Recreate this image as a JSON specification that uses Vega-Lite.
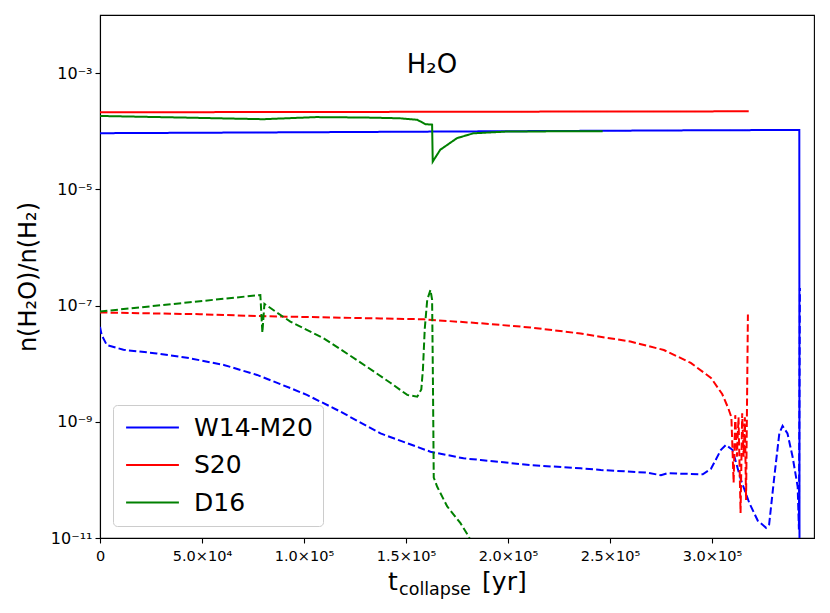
{
  "$schema": "https://vega.github.io/schema/vega-lite/v6.json",
  "width": 714,
  "height": 523,
  "autosize": {"type": "none"},
  "padding": {"left": 100, "top": 15, "right": 16, "bottom": 75},
  "background": "white",
  "config": {
    "font": "DejaVu Sans",
    "view": {"stroke": "black", "strokeWidth": 1.1},
    "axis": {
      "grid": false,
      "domainColor": "black",
      "domainWidth": 1.1,
      "tickColor": "black",
      "tickWidth": 1.1,
      "tickSize": 5,
      "labelColor": "black",
      "labelFontSize": 14.5,
      "labelFont": "DejaVu Sans",
      "titleColor": "black",
      "titleFont": "DejaVu Sans",
      "titleFontWeight": "normal"
    }
  },
  "datasets": {
    "curves": [
      {"model": "W14-M20", "phase": "solid", "t": 0, "ratio": 9.25e-5},
      {"model": "W14-M20", "phase": "solid", "t": 100000, "ratio": 9.6e-5},
      {"model": "W14-M20", "phase": "solid", "t": 200000, "ratio": 1.0e-4},
      {"model": "W14-M20", "phase": "solid", "t": 300000, "ratio": 1.04e-4},
      {"model": "W14-M20", "phase": "solid", "t": 342800, "ratio": 1.05e-4},
      {"model": "W14-M20", "phase": "solid", "t": 342900, "ratio": 1e-12},

      {"model": "W14-M20", "phase": "dashed", "t": 0, "ratio": 4.3e-8},
      {"model": "W14-M20", "phase": "dashed", "t": 830, "ratio": 3.1e-8},
      {"model": "W14-M20", "phase": "dashed", "t": 3300, "ratio": 2.1e-8},
      {"model": "W14-M20", "phase": "dashed", "t": 11500, "ratio": 1.73e-8},
      {"model": "W14-M20", "phase": "dashed", "t": 27800, "ratio": 1.5e-8},
      {"model": "W14-M20", "phase": "dashed", "t": 44000, "ratio": 1.24e-8},
      {"model": "W14-M20", "phase": "dashed", "t": 60700, "ratio": 9.5e-9},
      {"model": "W14-M20", "phase": "dashed", "t": 77000, "ratio": 6.4e-9},
      {"model": "W14-M20", "phase": "dashed", "t": 93300, "ratio": 3.8e-9},
      {"model": "W14-M20", "phase": "dashed", "t": 101400, "ratio": 2.9e-9},
      {"model": "W14-M20", "phase": "dashed", "t": 117800, "ratio": 1.5e-9},
      {"model": "W14-M20", "phase": "dashed", "t": 127000, "ratio": 1.0e-9},
      {"model": "W14-M20", "phase": "dashed", "t": 137500, "ratio": 6.3e-10},
      {"model": "W14-M20", "phase": "dashed", "t": 162000, "ratio": 3.05e-10},
      {"model": "W14-M20", "phase": "dashed", "t": 178200, "ratio": 2.35e-10},
      {"model": "W14-M20", "phase": "dashed", "t": 186600, "ratio": 2.2e-10},
      {"model": "W14-M20", "phase": "dashed", "t": 211000, "ratio": 1.8e-10},
      {"model": "W14-M20", "phase": "dashed", "t": 235600, "ratio": 1.58e-10},
      {"model": "W14-M20", "phase": "dashed", "t": 245500, "ratio": 1.48e-10},
      {"model": "W14-M20", "phase": "dashed", "t": 268500, "ratio": 1.33e-10},
      {"model": "W14-M20", "phase": "dashed", "t": 275000, "ratio": 1.2e-10},
      {"model": "W14-M20", "phase": "dashed", "t": 278000, "ratio": 1.3e-10},
      {"model": "W14-M20", "phase": "dashed", "t": 295500, "ratio": 1.25e-10},
      {"model": "W14-M20", "phase": "dashed", "t": 299500, "ratio": 1.55e-10},
      {"model": "W14-M20", "phase": "dashed", "t": 304400, "ratio": 3.3e-10},
      {"model": "W14-M20", "phase": "dashed", "t": 306800, "ratio": 4.0e-10},
      {"model": "W14-M20", "phase": "dashed", "t": 310000, "ratio": 3.3e-10},
      {"model": "W14-M20", "phase": "dashed", "t": 314200, "ratio": 1.0e-10},
      {"model": "W14-M20", "phase": "dashed", "t": 318300, "ratio": 4.0e-11},
      {"model": "W14-M20", "phase": "dashed", "t": 322400, "ratio": 2.0e-11},
      {"model": "W14-M20", "phase": "dashed", "t": 326500, "ratio": 1.5e-11},
      {"model": "W14-M20", "phase": "dashed", "t": 328000, "ratio": 1.7e-11},
      {"model": "W14-M20", "phase": "dashed", "t": 330500, "ratio": 1.1e-10},
      {"model": "W14-M20", "phase": "dashed", "t": 333000, "ratio": 6.3e-10},
      {"model": "W14-M20", "phase": "dashed", "t": 334600, "ratio": 8.5e-10},
      {"model": "W14-M20", "phase": "dashed", "t": 337000, "ratio": 6.3e-10},
      {"model": "W14-M20", "phase": "dashed", "t": 339500, "ratio": 2.5e-10},
      {"model": "W14-M20", "phase": "dashed", "t": 342000, "ratio": 7.6e-11},
      {"model": "W14-M20", "phase": "dashed", "t": 342600, "ratio": 1.4e-11},
      {"model": "W14-M20", "phase": "dashed", "t": 343100, "ratio": 2.0e-7},

      {"model": "S20", "phase": "solid", "t": 0, "ratio": 2.12e-4},
      {"model": "S20", "phase": "solid", "t": 100000, "ratio": 2.14e-4},
      {"model": "S20", "phase": "solid", "t": 200000, "ratio": 2.17e-4},
      {"model": "S20", "phase": "solid", "t": 318000, "ratio": 2.2e-4},

      {"model": "S20", "phase": "dashed", "t": 0, "ratio": 7.6e-8},
      {"model": "S20", "phase": "dashed", "t": 49000, "ratio": 7.1e-8},
      {"model": "S20", "phase": "dashed", "t": 77000, "ratio": 6.6e-8},
      {"model": "S20", "phase": "dashed", "t": 137500, "ratio": 6.0e-8},
      {"model": "S20", "phase": "dashed", "t": 158700, "ratio": 5.8e-8},
      {"model": "S20", "phase": "dashed", "t": 186600, "ratio": 4.95e-8},
      {"model": "S20", "phase": "dashed", "t": 211000, "ratio": 4.2e-8},
      {"model": "S20", "phase": "dashed", "t": 235600, "ratio": 3.3e-8},
      {"model": "S20", "phase": "dashed", "t": 260000, "ratio": 2.4e-8},
      {"model": "S20", "phase": "dashed", "t": 276400, "ratio": 1.72e-8},
      {"model": "S20", "phase": "dashed", "t": 289600, "ratio": 1.03e-8},
      {"model": "S20", "phase": "dashed", "t": 299500, "ratio": 5.7e-9},
      {"model": "S20", "phase": "dashed", "t": 305000, "ratio": 3.0e-9},
      {"model": "S20", "phase": "dashed", "t": 308000, "ratio": 1.7e-9},
      {"model": "S20", "phase": "dashed", "t": 309500, "ratio": 1.2e-9},
      {"model": "S20", "phase": "dashed", "t": 310600, "ratio": 9.0e-11},
      {"model": "S20", "phase": "dashed", "t": 311400, "ratio": 1.3e-9},
      {"model": "S20", "phase": "dashed", "t": 312200, "ratio": 2.5e-10},
      {"model": "S20", "phase": "dashed", "t": 313000, "ratio": 1.2e-9},
      {"model": "S20", "phase": "dashed", "t": 314000, "ratio": 2.7e-11},
      {"model": "S20", "phase": "dashed", "t": 314800, "ratio": 1.4e-9},
      {"model": "S20", "phase": "dashed", "t": 315500, "ratio": 2.5e-10},
      {"model": "S20", "phase": "dashed", "t": 316100, "ratio": 1.2e-9},
      {"model": "S20", "phase": "dashed", "t": 316700, "ratio": 4.5e-11},
      {"model": "S20", "phase": "dashed", "t": 317600, "ratio": 7.0e-8},

      {"model": "D16", "phase": "solid", "t": 0, "ratio": 1.83e-4},
      {"model": "D16", "phase": "solid", "t": 40000, "ratio": 1.72e-4},
      {"model": "D16", "phase": "solid", "t": 80000, "ratio": 1.61e-4},
      {"model": "D16", "phase": "solid", "t": 106000, "ratio": 1.75e-4},
      {"model": "D16", "phase": "solid", "t": 130000, "ratio": 1.72e-4},
      {"model": "D16", "phase": "solid", "t": 147000, "ratio": 1.67e-4},
      {"model": "D16", "phase": "solid", "t": 155600, "ratio": 1.57e-4},
      {"model": "D16", "phase": "solid", "t": 159500, "ratio": 1.32e-4},
      {"model": "D16", "phase": "solid", "t": 162800, "ratio": 1.3e-4},
      {"model": "D16", "phase": "solid", "t": 163100, "ratio": 3.0e-5},
      {"model": "D16", "phase": "solid", "t": 166800, "ratio": 4.8e-5},
      {"model": "D16", "phase": "solid", "t": 175000, "ratio": 7.6e-5},
      {"model": "D16", "phase": "solid", "t": 183000, "ratio": 9.2e-5},
      {"model": "D16", "phase": "solid", "t": 200000, "ratio": 9.9e-5},
      {"model": "D16", "phase": "solid", "t": 246400, "ratio": 1.0e-4},

      {"model": "D16", "phase": "dashed", "t": 0, "ratio": 7.9e-8},
      {"model": "D16", "phase": "dashed", "t": 44000, "ratio": 1.14e-7},
      {"model": "D16", "phase": "dashed", "t": 78600, "ratio": 1.52e-7},
      {"model": "D16", "phase": "dashed", "t": 79600, "ratio": 3.4e-8},
      {"model": "D16", "phase": "dashed", "t": 80600, "ratio": 1.07e-7},
      {"model": "D16", "phase": "dashed", "t": 86900, "ratio": 7.5e-8},
      {"model": "D16", "phase": "dashed", "t": 93300, "ratio": 5.3e-8},
      {"model": "D16", "phase": "dashed", "t": 109500, "ratio": 2.75e-8},
      {"model": "D16", "phase": "dashed", "t": 126000, "ratio": 1.15e-8},
      {"model": "D16", "phase": "dashed", "t": 142300, "ratio": 4.7e-9},
      {"model": "D16", "phase": "dashed", "t": 150600, "ratio": 2.9e-9},
      {"model": "D16", "phase": "dashed", "t": 155500, "ratio": 2.7e-9},
      {"model": "D16", "phase": "dashed", "t": 157500, "ratio": 3.6e-9},
      {"model": "D16", "phase": "dashed", "t": 158300, "ratio": 8.0e-9},
      {"model": "D16", "phase": "dashed", "t": 159200, "ratio": 4.0e-8},
      {"model": "D16", "phase": "dashed", "t": 160400, "ratio": 1.25e-7},
      {"model": "D16", "phase": "dashed", "t": 162000, "ratio": 1.86e-7},
      {"model": "D16", "phase": "dashed", "t": 162800, "ratio": 1.25e-7},
      {"model": "D16", "phase": "dashed", "t": 163200, "ratio": 5.2e-9},
      {"model": "D16", "phase": "dashed", "t": 163600, "ratio": 1.1e-10},
      {"model": "D16", "phase": "dashed", "t": 165300, "ratio": 7.6e-11},
      {"model": "D16", "phase": "dashed", "t": 170200, "ratio": 3.5e-11},
      {"model": "D16", "phase": "dashed", "t": 176700, "ratio": 1.8e-11},
      {"model": "D16", "phase": "dashed", "t": 180800, "ratio": 1.05e-11},
      {"model": "D16", "phase": "dashed", "t": 184000, "ratio": 6e-12}
    ]
  },
  "layer": [
    {
      "data": {"name": "curves"},
      "mark": {"type": "line", "strokeWidth": 2, "clip": true},
      "encoding": {
        "x": {
          "field": "t",
          "type": "quantitative",
          "scale": {"domain": [0, 350000], "nice": false, "zero": false},
          "axis": {
            "title": null,
            "values": [0, 50000, 100000, 150000, 200000, 250000, 300000],
            "labelExpr": "['0','5.0×10⁴','1.0×10⁵','1.5×10⁵','2.0×10⁵','2.5×10⁵','3.0×10⁵'][round(datum.value/50000)]",
            "labelPadding": 6,
            "labelFlush": false
          }
        },
        "y": {
          "field": "ratio",
          "type": "quantitative",
          "scale": {"type": "log", "domain": [1e-11, 1e-2], "nice": false},
          "axis": {
            "title": "n(H₂O)/n(H₂)",
            "titleFontSize": 24,
            "titlePadding": 10,
            "values": [1e-11, 1e-9, 1e-7, 1e-5, 1e-3],
            "labelExpr": "['10⁻¹¹','10⁻⁹','10⁻⁷','10⁻⁵','10⁻³'][round((log(datum.value)/LN10+11)/2)]",
            "labelFontSize": 16,
            "labelPadding": 3,
            "labelFlush": false
          }
        },
        "color": {
          "field": "model",
          "type": "nominal",
          "scale": {"domain": ["W14-M20", "S20", "D16"], "range": ["#0000ff", "#ff0000", "#008000"]},
          "legend": {
            "title": null,
            "orient": "none",
            "legendX": 13,
            "legendY": 390,
            "fillColor": "white",
            "strokeColor": "#cccccc",
            "cornerRadius": 4,
            "padding": 10,
            "symbolType": "M-3,0H3",
            "symbolSize": 310,
            "symbolStrokeWidth": 2,
            "symbolOffset": 17,
            "labelOffset": 29,
            "labelFontSize": 25,
            "labelColor": "black",
            "labelFont": "DejaVu Sans",
            "rowPadding": 11.5
          }
        },
        "strokeDash": {
          "field": "phase",
          "type": "nominal",
          "scale": {"domain": ["solid", "dashed"], "range": [[1, 0], [7.4, 3.2]]},
          "legend": null
        }
      }
    },
    {
      "data": {"values": [{}]},
      "mark": {"type": "text", "fontSize": 26, "align": "center", "baseline": "middle", "color": "black"},
      "encoding": {
        "x": {"datum": 162700},
        "y": {"datum": 0.00138},
        "text": {"value": "H₂O"}
      }
    },
    {
      "data": {"values": [{}]},
      "mark": {"type": "text", "fontSize": 25, "align": "left", "baseline": "alphabetic", "color": "black", "clip": false},
      "encoding": {
        "x": {"datum": 141200},
        "y": {"datum": 1.27e-12},
        "text": {"value": "t"}
      }
    },
    {
      "data": {"values": [{}]},
      "mark": {"type": "text", "fontSize": 17.5, "align": "left", "baseline": "alphabetic", "color": "black", "clip": false},
      "encoding": {
        "x": {"datum": 146600},
        "y": {"datum": 1.045e-12},
        "text": {"value": "collapse"}
      }
    },
    {
      "data": {"values": [{}]},
      "mark": {"type": "text", "fontSize": 25, "align": "left", "baseline": "alphabetic", "color": "black", "clip": false},
      "encoding": {
        "x": {"datum": 187300},
        "y": {"datum": 1.27e-12},
        "text": {"value": "[yr]"}
      }
    }
  ]
}
